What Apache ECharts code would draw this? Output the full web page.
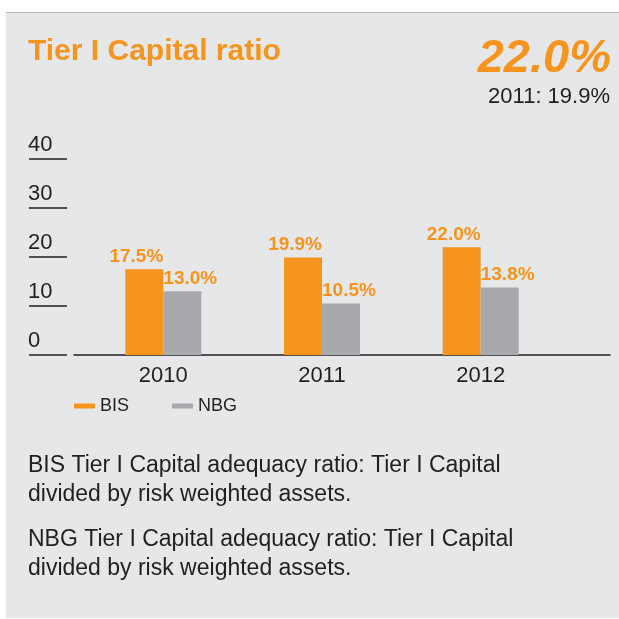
<!DOCTYPE html>
<html>
<head>
<meta charset="utf-8">
<script src="https://cdn.jsdelivr.net/npm/echarts@6/dist/echarts.min.js"></script>
<style>
  html, body { margin: 0; padding: 0; background: #ffffff; }
  #panel { position: absolute; left: 6px; top: 12px; width: 613px; height: 605px;
           background: #e6e7e8; border-top: 1px solid #b5b6b8; }
  #main { position: absolute; left: 0; top: 0; width: 619px; height: 619px; }
</style>
</head>
<body>
<div id="panel"></div>
<div id="main"></div>
<script>
// data
var years = ['2010', '2011', '2012'];
var bis = [17.5, 19.9, 22.0];
var nbg = [13.0, 10.5, 13.8];
var yMin = 0, yMax = 40, yStep = 10;

var orange = '#f7941d';
var grey = '#a7a9ac';
var ink = '#231f20';
var sans = '"Liberation Sans", Arial, sans-serif';

var myChart = echarts.init(document.getElementById('main'));

// bar value labels: BIS hugs the bar's right edge, NBG its left edge
function barLabel(align, dx) {
    return {
        show: true, position: 'top', distance: 3, align: align, offset: [dx, 0],
        color: orange, fontFamily: sans, fontWeight: 'bold', fontSize: 19,
        formatter: function (p) { return p.value.toFixed(1) + '%'; }
    };
}

var option = {
    backgroundColor: 'transparent',
    animation: false,
    title: [
        { text: 'Tier I Capital ratio', left: 28, top: 37, padding: 0,
          textStyle: { color: orange, fontFamily: sans, fontSize: 30, fontWeight: 'bold' } },
        { text: '22.0%', right: 8, top: 36, padding: 0,
          textStyle: { color: orange, fontFamily: sans, fontSize: 47, fontWeight: 'bold', fontStyle: 'italic' } },
        { text: '2011: 19.9%', right: 9, top: 86, padding: 0,
          textStyle: { color: ink, fontFamily: sans, fontSize: 22, fontWeight: 'normal' } },
        { text: 'BIS Tier I Capital adequacy ratio: Tier I Capital\ndivided by risk weighted assets.',
          left: 28, top: 451, padding: 0,
          textStyle: { color: ink, fontFamily: sans, fontSize: 23, fontWeight: 'normal', lineHeight: 29 } },
        { text: 'NBG Tier I Capital adequacy ratio: Tier I Capital\ndivided by risk weighted assets.',
          left: 28, top: 525, padding: 0,
          textStyle: { color: ink, fontFamily: sans, fontSize: 23, fontWeight: 'normal', lineHeight: 29 } }
    ],
    legend: {
        data: ['BIS', 'NBG'],
        left: 74,
        top: 397,
        padding: 0,
        icon: 'rect',
        itemWidth: 21,
        itemHeight: 5,
        itemGap: 43,
        textStyle: { color: ink, fontFamily: sans, fontSize: 18 }
    },
    grid: [
        { left: 84, width: 476, top: 159, height: 196 },
        { left: 74, width: 536, top: 159, height: 196 }
    ],
    xAxis: [
        {
            type: 'category', gridIndex: 0, data: years,
            axisLine: { show: false }, axisTick: { show: false },
            axisLabel: { color: ink, fontFamily: sans, fontSize: 22, margin: 10 }
        },
        {
            type: 'category', gridIndex: 1, data: years,
            axisLine: { show: true, lineStyle: { color: ink, width: 1.5 } },
            axisTick: { show: false }, axisLabel: { show: false }
        }
    ],
    yAxis: [
        {
            type: 'value', gridIndex: 0, min: yMin, max: yMax, interval: yStep,
            show: false, splitLine: { show: false }
        },
        {
            type: 'value', gridIndex: 1, min: yMin, max: yMax, interval: yStep,
            offset: 7,
            axisLine: { show: false },
            splitLine: { show: false },
            axisTick: { show: true, length: 38, lineStyle: { color: ink, width: 1.5 } },
            axisLabel: { color: ink, fontFamily: sans, fontSize: 22, align: 'left', margin: 39,
                         verticalAlign: 'bottom', padding: [0, 0, 3, 0] }
        }
    ],
    series: [
        {
            name: 'BIS', type: 'bar', xAxisIndex: 0, yAxisIndex: 0,
            data: bis, barWidth: 38, barGap: '0%',
            itemStyle: { color: orange },
            label: barLabel('right', 19)
        },
        {
            name: 'NBG', type: 'bar', xAxisIndex: 0, yAxisIndex: 0,
            data: nbg, barWidth: 38, barGap: '0%',
            itemStyle: { color: grey },
            label: barLabel('left', -19)
        }
    ]
};
myChart.setOption(option);
</script>
</body>
</html>
